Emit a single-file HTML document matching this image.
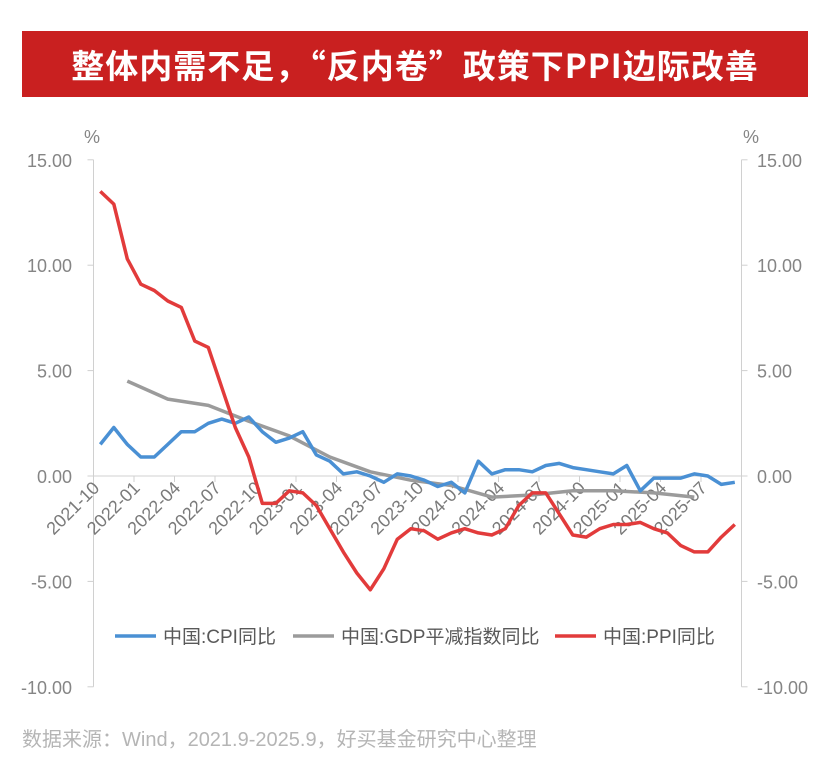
<!DOCTYPE html>
<html><head><meta charset="utf-8">
<style>
html,body{margin:0;padding:0;background:#fff;width:831px;height:768px;overflow:hidden;font-family:"Liberation Sans","Noto Sans CJK SC",sans-serif;}
#banner{position:absolute;left:22px;top:31px;width:786px;height:66px;background:#c92020;}
#title{position:absolute;left:0;top:0;width:786px;height:66px;line-height:66px;text-align:center;color:#fff;font-weight:bold;font-size:33px;letter-spacing:1px;font-family:"Noto Sans CJK SC","Liberation Sans",sans-serif;}
#src{position:absolute;left:22px;top:723px;font-size:20px;color:#b5b5b5;font-family:"Liberation Sans","Noto Sans CJK SC",sans-serif;}
svg{position:absolute;left:0;top:0;}
</style></head><body>
<div id="banner"><div id="title">整体内需不足，“反内卷”政策下PPI边际改善</div></div>
<svg id="chart" width="831" height="768"></svg>
<div id="src">数据来源：Wind，2021.9-2025.9，好买基金研究中心整理</div>
<script>
const months = [];
for (let y = 2021, m = 10; months.length < 48; ) { months.push(y + '-' + String(m).padStart(2, '0')); m++; if (m > 12) { m = 1; y++; } }
const cpi = [1.5,2.3,1.5,0.9,0.9,1.5,2.1,2.1,2.5,2.7,2.5,2.8,2.1,1.6,1.8,2.1,1.0,0.7,0.1,0.2,0.0,-0.3,0.1,0.0,-0.2,-0.5,-0.3,-0.8,0.7,0.1,0.3,0.3,0.2,0.5,0.6,0.4,0.3,0.2,0.1,0.5,-0.7,-0.1,-0.1,-0.1,0.1,0.0,-0.4,-0.3];
const ppi = [13.5,12.9,10.3,9.1,8.8,8.3,8.0,6.4,6.1,4.2,2.3,0.9,-1.3,-1.3,-0.7,-0.8,-1.4,-2.5,-3.6,-4.6,-5.4,-4.4,-3.0,-2.5,-2.6,-3.0,-2.7,-2.5,-2.7,-2.8,-2.5,-1.4,-0.8,-0.8,-1.8,-2.8,-2.9,-2.5,-2.3,-2.3,-2.2,-2.5,-2.7,-3.3,-3.6,-3.6,-2.9,-2.3];
const gdpIdx = [2,5,8,11,14,17,20,23,26,29,32,35,38,41,44];
const gdp = [4.5,3.65,3.35,2.6,1.9,0.9,0.2,-0.2,-0.45,-1.0,-0.9,-0.7,-0.7,-0.8,-1.0];
const yTicks = [15,10,5,0,-5,-10];
const xTickLabels = months.filter((_, i) => i % 3 === 0);

const svg = document.getElementById('chart');
const NS = 'http://www.w3.org/2000/svg';
const X0 = 93.5, STEP = 13.5, Y0 = 476, UNIT = 21.08;
const xs = i => X0 + STEP * (i + 0.5);
const ys = v => Y0 - v * UNIT;
function mk(tag, attrs) { const e = document.createElementNS(NS, tag); for (const k in attrs) e.setAttribute(k, attrs[k]); svg.appendChild(e); return e; }

let e = mk('line', {x1: 93.5, y1: ys(15), x2: 93.5, y2: ys(-10), stroke: '#d0d0d0', 'stroke-width': 1});
 
e = mk('line', {x1: 741.5, y1: ys(15), x2: 741.5, y2: ys(-10), stroke: '#d0d0d0', 'stroke-width': 1});
 
e = mk('line', {x1: 93.5, y1: ys(0), x2: 741.5, y2: ys(0), stroke: '#d0d0d0', 'stroke-width': 1});
 

yTicks.forEach(v => {
  const y = ys(v);
  let t = mk('line', {x1: 87.5, y1: y, x2: 93.5, y2: y, stroke: '#d0d0d0'});
   
  t = mk('line', {x1: 741.5, y1: y, x2: 747.5, y2: y, stroke: '#d0d0d0'});
   
  let l = mk('text', {x: 72, y: y + 7, 'text-anchor': 'end', 'font-size': 18, fill: '#858585'});
  l.textContent = v.toFixed(2);
   
  l = mk('text', {x: 757, y: y + 7, 'text-anchor': 'start', 'font-size': 18, fill: '#858585'});
  l.textContent = v.toFixed(2);
   
});
e = mk('text', {x: 92, y: 143, 'text-anchor': 'middle', 'font-size': 18, fill: '#858585'}); e.textContent = '%';
 
e = mk('text', {x: 751, y: 143, 'text-anchor': 'middle', 'font-size': 18, fill: '#858585'}); e.textContent = '%';
 

xTickLabels.forEach((lab, k) => {
  const x = X0 + STEP * k * 3;
  let t = mk('line', {x1: x, y1: Y0, x2: x, y2: Y0 + 6, stroke: '#d0d0d0'});
   
  let l = mk('text', {x: x + 7, y: Y0 + 13, 'text-anchor': 'end', 'font-size': 18, fill: '#7a7a7a', transform: `rotate(-45 ${x + 7} ${Y0 + 13})`});
  l.textContent = lab;
   
});

function line(vals, idx, color, name) {
  const pts = vals.map((v, i) => xs(idx ? idx[i] : i).toFixed(1) + ',' + ys(v).toFixed(1)).join(' ');
  const p = mk('polyline', {points: pts, fill: 'none', stroke: color, 'stroke-width': 3.5, 'stroke-linejoin': 'round'});
   
}
line(gdp, gdpIdx, '#9b9b9b', 'gdp-deflator-line');
line(cpi, null, '#4a90d4', 'cpi-line');
line(ppi, null, '#e23b3b', 'ppi-line');

const legend = [['中国:CPI同比', '#4a90d4', 115], ['中国:GDP平减指数同比', '#9b9b9b', 293], ['中国:PPI同比', '#e23b3b', 555]];
legend.forEach(([txt, c, x]) => {
  let l = mk('line', {x1: x, y1: 636, x2: x + 41, y2: 636, stroke: c, 'stroke-width': 3.5});
   
  let t = mk('text', {x: x + 48, y: 643, 'font-size': 19, fill: '#595959', 'font-family': '"Liberation Sans","Noto Sans CJK SC",sans-serif'});
  t.textContent = txt;
   
});
</script>
</body></html>
